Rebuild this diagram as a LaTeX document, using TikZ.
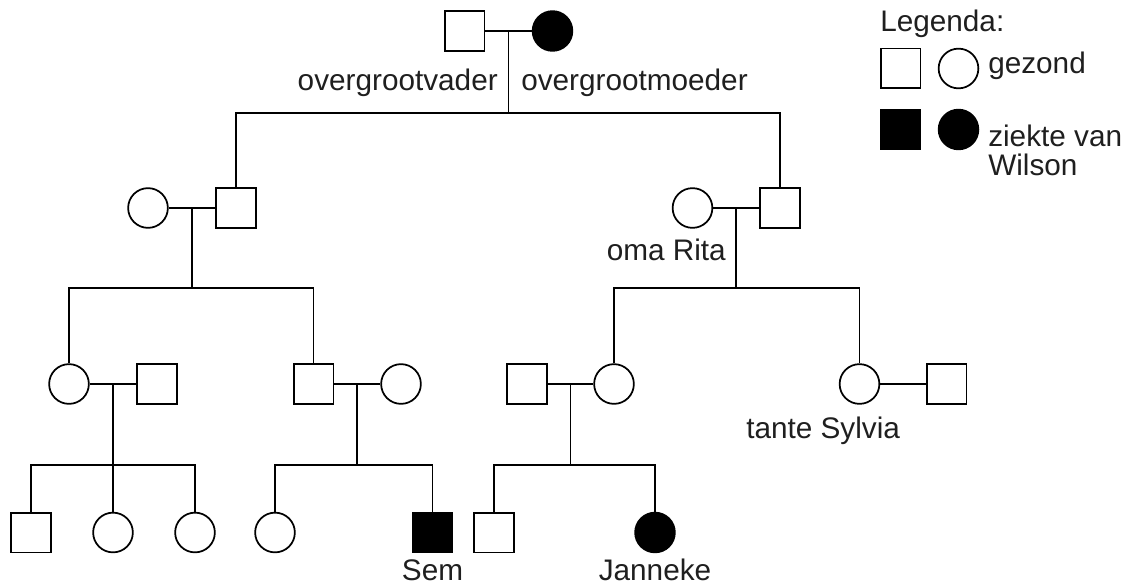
\documentclass[tikz,border=0pt]{standalone}
\usepackage{fontspec}
\setmainfont{Liberation Sans}
\usetikzlibrary{positioning}
\tikzset{
    person/.style={draw, line width=1.3pt, inner sep=0pt, minimum size=29.8pt},
    man/.style={person, rectangle, fill=white},
    woman/.style={person, circle, fill=white},
    ill/.style={fill=black},
    naam/.style={font=\fontsize{22.3}{21.5}\selectfont, text=black!88, inner sep=0pt, align=left},
    lijn/.style={line width=1.3pt}
}
\begin{document}
\begin{tikzpicture}[x=0.75pt, y=-0.75pt]
	\useasboundingbox (0,0) rectangle (1127,585);
	% overgrootouders
	\node[man] (ogv) at (464.5,31) {};
	\node[woman, ill] (ogm) at (552.5,31) {};
	\node[naam, anchor=base east] (togv) at (498,90) {overgrootvader};
	\node[naam, anchor=base west] (togm) at (521,90) {overgrootmoeder};
	% generatie 1
	\node[woman] (v1) at (148,208) {};
	\node[man] (m1) at (236,208) {};
	\node[woman] (rita) at (692.5,208) {};
	\node[man] (m2) at (780,208) {};
	\node[naam, anchor=base east] (trita) at (726,260) {oma Rita};
	% generatie 2
	\node[woman] (v3) at (69,384) {};
	\node[man] (m3) at (157,384) {};
	\node[man] (m4) at (313.5,384) {};
	\node[woman] (v4) at (401,384) {};
	\node[man] (m5) at (527,384) {};
	\node[woman] (v5) at (614,384) {};
	\node[woman] (sylvia) at (859.5,384) {};
	\node[man] (m6) at (946.5,384) {};
	\node[naam, anchor=base west] (tsylvia) at (746,438) {tante Sylvia};
	% generatie 3
	\node[man] (k1) at (31,532.5) {};
	\node[woman] (k2) at (113,532.5) {};
	\node[woman] (k3) at (195,532.5) {};
	\node[woman] (k4) at (275,532.5) {};
	\node[man, ill] (sem) at (432.5,532.5) {};
	\node[man] (k6) at (494,532.5) {};
	\node[woman, ill] (janneke) at (655,532.5) {};
	\node[naam, anchor=base] (tsem) at (432.5,580) {Sem};
	\node[naam, anchor=base] (tjanneke) at (655,580) {Janneke};
	% huwelijken en kinderen
	\begin{scope}[lijn]
		\draw (ogv) -- coordinate[midway] (h0) (ogm);
		\draw (h0) -- ++(0,82) coordinate (s0);
		\draw (m1.north) |- (s0) -| (m2.north);
		\draw (v1) -- coordinate[midway] (h1) (m1);
		\draw (h1) -- ++(0,80) coordinate (s1);
		\draw (v3.north) |- (s1) -| (m4.north);
		\draw (rita) -- coordinate[midway] (h2) (m2);
		\draw (h2) -- ++(0,80) coordinate (s2);
		\draw (v5.north) |- (s2) -| (sylvia.north);
		\draw (v3) -- coordinate[midway] (h3) (m3);
		\draw (h3) -- ++(0,81) coordinate (s3);
		\draw (k1.north) |- (s3) -| (k3.north);
		\draw (k2.north) -- (s3);
		\draw (m4) -- coordinate[midway] (h4) (v4);
		\draw (h4) -- ++(0,81) coordinate (s4);
		\draw (k4.north) |- (s4) -| (sem.north);
		\draw (m5) -- coordinate[midway] (h5) (v5);
		\draw (h5) -- ++(0,81) coordinate (s5);
		\draw (k6.north) |- (s5) -| (janneke.north);
		\draw (sylvia) -- (m6);
	\end{scope}
	% legenda
	\node[naam, anchor=base west] (legenda) at (880,32) {Legenda:};
	\node[man] (lm) at (900.5,68.5) {};
	\node[woman] (lv) at (958.5,68.5) {};
	\node[naam, anchor=base west] (tgezond) at (988,74) {gezond};
	\node[man, ill] (lmz) at (900.5,129.5) {};
	\node[woman, ill] (lvz) at (958.5,129.5) {};
	\node[naam, anchor=north west] (tziek) at (988,125) {ziekte van\\Wilson};
\end{tikzpicture}
\end{document}
